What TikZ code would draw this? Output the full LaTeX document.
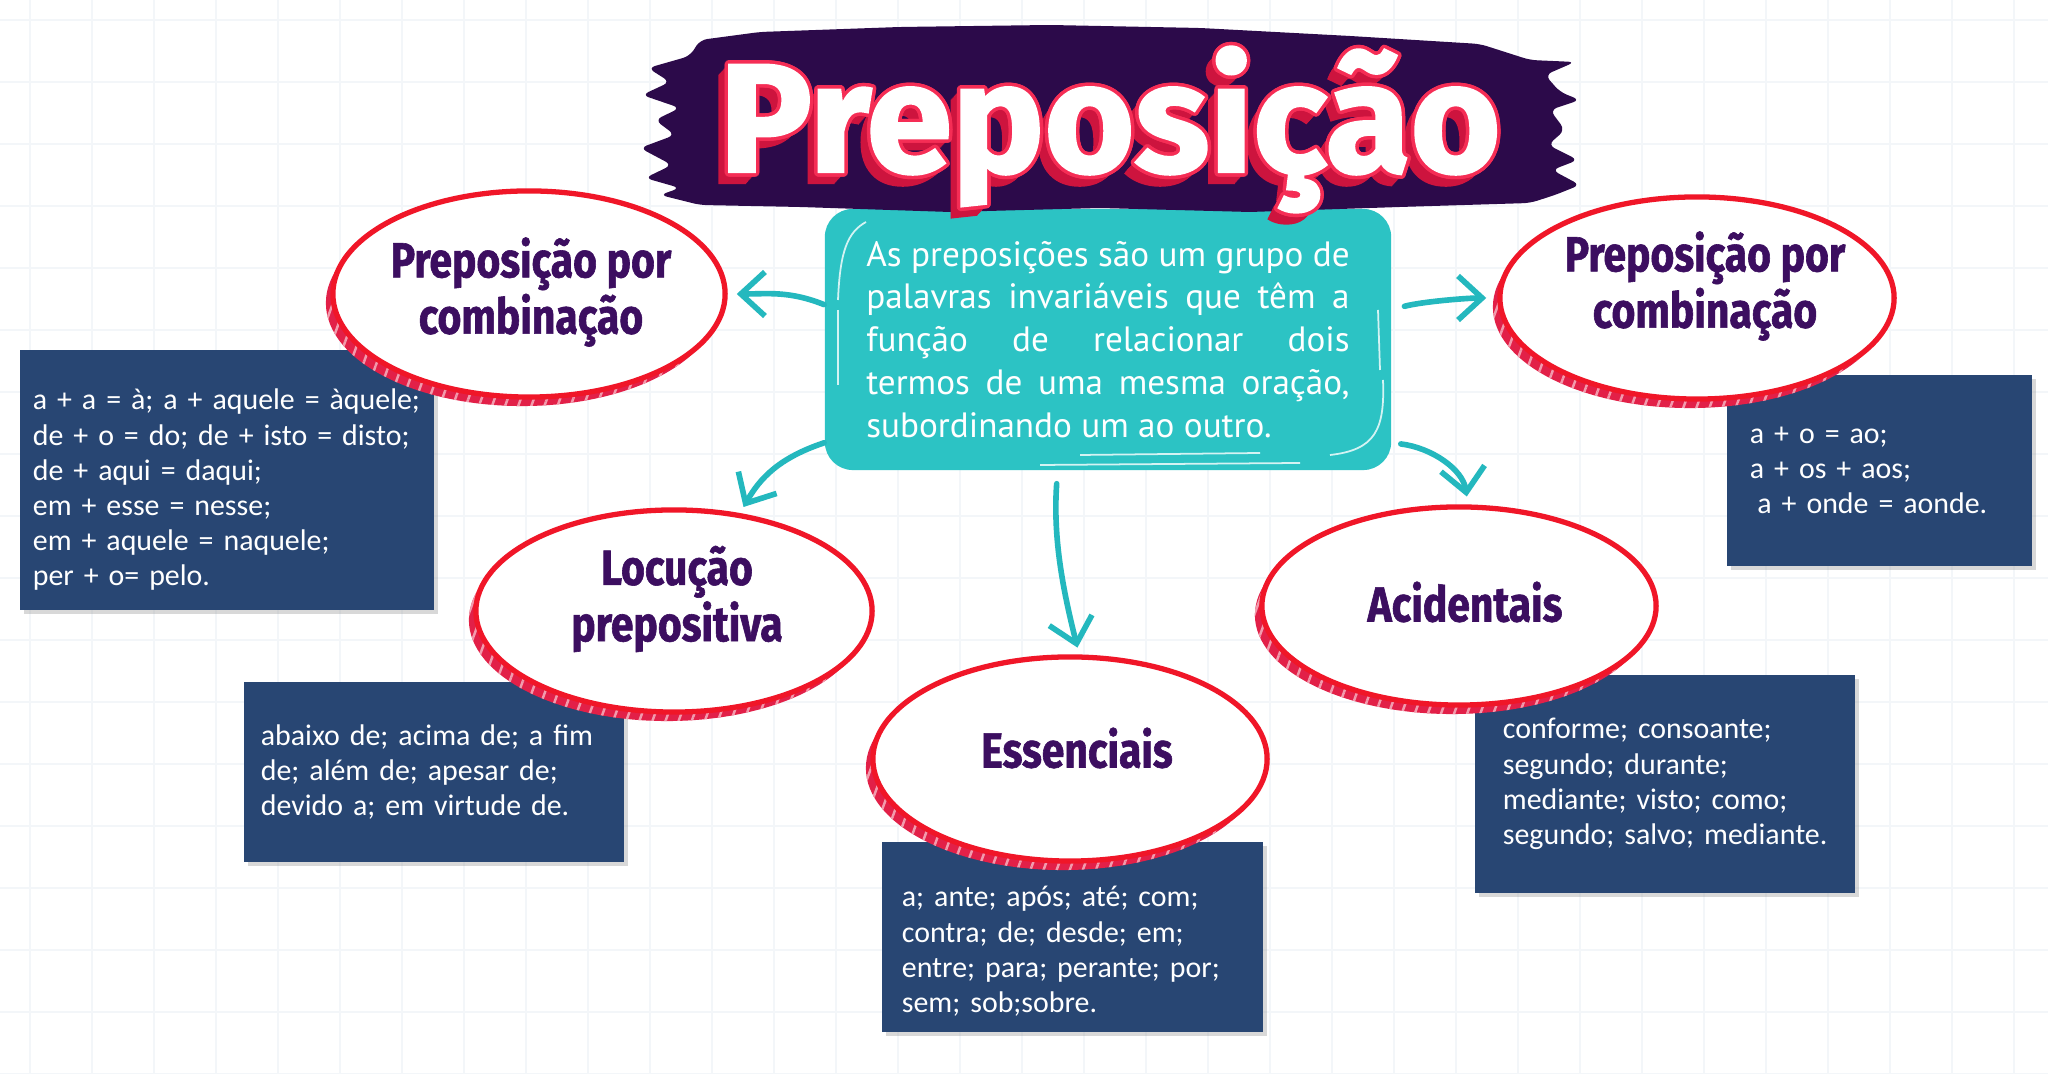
\documentclass[tikz,border=0pt]{standalone}
\usepackage{fontspec}
\usepackage{xcolor}
\usetikzlibrary{positioning}
\usetikzlibrary{shapes.geometric}
\usetikzlibrary{arrows.meta}
\usetikzlibrary{shadows}
\usetikzlibrary{patterns.meta}

\setmainfont{PT Sans}
\newfontfamily\boxfont[WordSpace=0.8]{Carlito}
\newfontfamily\titlefont[FakeBold=1.5]{Fira Sans}
\newfontfamily\bubblefont[FakeStretch=0.83,FakeBold=1.2]{Fira Sans}

\definecolor{inkpurple}{RGB}{44,10,74}
\definecolor{labelpurple}{RGB}{60,14,96}
\definecolor{bubblered}{RGB}{240,22,40}
\definecolor{bubbleshade}{RGB}{226,32,72}
\definecolor{boxblue}{RGB}{40,70,115}
\definecolor{tealbox}{RGB}{44,195,196}
\definecolor{tealarrow}{RGB}{36,184,190}
\definecolor{titlered}{RGB}{245,45,85}
\definecolor{titledark}{RGB}{205,20,62}
\definecolor{gridgray}{RGB}{243,246,249}

\tikzset{
  gridline/.style={gridgray, line width=0.3pt},
  bubble/.style={ellipse, draw=bubblered, line width=1.5pt, fill=white, inner sep=0pt,
    general shadow={shadow xshift=-0.07cm, shadow yshift=-0.09cm, fill=bubbleshade},
    general shadow={shadow xshift=-0.07cm, shadow yshift=-0.09cm,
      pattern={Lines[angle=70,distance=3.5pt,line width=0.7pt]}, pattern color=white!55!bubbleshade}},
  bubbletext/.style={text=labelpurple, inner sep=0pt, align=center,
    font=\bubblefont\bfseries\fontsize{14}{13.4}\selectfont},
  wordbox/.style={rectangle, fill=boxblue, text=white, inner ysep=0pt, align=left,
    font=\boxfont\fontsize{8.5}{10}\selectfont,
    drop shadow={shadow xshift=0.04cm, shadow yshift=-0.04cm, opacity=0.3}},
  defbox/.style={rectangle, rounded corners=0.28cm, fill=tealbox, text=white,
    text width=4.83cm, inner xsep=0.415cm, minimum height=2.61cm, align=justify,
    font=\fontsize{10}{12.2}\selectfont},
  gloss/.style={white, line width=0.5pt, opacity=0.8},
  titleshade/.style={anchor=base, text=titledark, font=\titlefont\bfseries\fontsize{44}{44}\selectfont},
  titleline/.style={anchor=base, text=titlered, font=\titlefont\bfseries\fontsize{44}{44}\selectfont},
  titletop/.style={anchor=base, text=white, font=\titlefont\bfseries\fontsize{44}{44}\selectfont},
  arr/.style={tealarrow, line width=1.6pt, line cap=round, -{Straight Barb[length=2.4mm,width=4.4mm]}},
}

\begin{document}
\begin{tikzpicture}[x=0.01cm,y=-0.01cm]

\useasboundingbox (0,0) rectangle (2048,1074);
\fill[white] (0,0) rectangle (2048,1074);

%grid
{
\foreach \gx in {30,92,...,2048} \draw[gridline] (\gx,0) -- (\gx,1074);
\foreach \gy in {20,82,...,1074} \draw[gridline] (0,\gy) -- (2048,\gy);
}

% word boxes
{
\node[wordbox, text width=3.88cm, minimum height=2.6cm, inner xsep=0.13cm] (boxL) at (227,480)
{\rule{0pt}{11.5pt}a + a = à; a + aquele = àquele;\\ de + o = do; de + isto = disto;\\ de + aqui = daqui;\\ em + esse = nesse;\\ em + aquele = naquele;\\ per + o= pelo.};

\node[wordbox, text width=2.59cm, minimum height=1.91cm, inner xsep=0.23cm] (boxR) at (1879.5,470.5)
{a + o = ao;\\ a + os + aos;\\ \hspace*{0.25em}a + onde = aonde.};

\node[wordbox, text width=3.46cm, minimum height=1.8cm, inner xsep=0.17cm] (boxLoc) at (434,772)
{abaixo de; acima de; a fim\\ de; além de; apesar de;\\ devido a; em virtude de.};

\node[wordbox, text width=3.41cm, minimum height=1.9cm, inner xsep=0.2cm] (boxEss) at (1072.5,937)
{\rule{0pt}{14pt}a; ante; após; até; com;\\ contra; de; desde; em;\\ entre; para; perante; por;\\ sem; sob;sobre.};

\node[wordbox, text width=3.34cm, minimum height=2.18cm, inner xsep=0.23cm] (boxAcid) at (1665,784)
{\hspace*{0.05cm}conforme; consoante;\\ \hspace*{0.05cm}segundo; durante;\\ \hspace*{0.05cm}mediante; visto; como;\\ \hspace*{0.05cm}\mbox{segundo; salvo; mediante.}};
}

% definition
\node[defbox] (def) at (1108,339.5)
{As preposições são um grupo de\linebreak palavras invariáveis que têm a\linebreak função de relacionar dois\linebreak termos de uma mesma oração,\linebreak subordinando um ao outro.};

{
\draw[gloss] (866,222) .. controls (848,232) and (840,250) .. (838,300);
\draw[gloss] (838,310) -- (838,385);
\draw[gloss] (1378,310) -- (1380,370);
\draw[gloss] (1383,380) .. controls (1385,430) and (1375,450) .. (1330,455);
\draw[gloss] (1080,455) -- (1260,453);
\draw[gloss] (1040,465) -- (1300,463);
}

%banner
\fill[inkpurple, rounded corners=2] (700,40) -- (760,32) -- (900,27) -- (1050,25) -- (1200,28) -- (1350,36) -- (1480,44) -- (1530,60) -- (1575,62) -- (1545,75) -- (1560,92) -- (1580,100) -- (1550,110) -- (1565,130) -- (1548,145) -- (1578,160) -- (1552,170) -- (1580,185) -- (1555,195) -- (1530,203) -- (1400,207) -- (1250,212) -- (1100,208) -- (950,212) -- (800,207) -- (700,205) -- (660,195) -- (680,188) -- (645,178) -- (672,165) -- (640,148) -- (675,135) -- (655,120) -- (680,108) -- (642,95) -- (670,82) -- (648,68) -- (690,56) -- cycle;

%title
{
\foreach \i in {1,...,11} \node[titleshade] (titleext\i) at (1110-0.9*\i,172+1.0*\i) {Preposição};
\foreach \a in {0,20,...,340} \node[titleline] (titleline\a) at ([shift={(\a:3.5)}]1110,172) {Preposição};
\node[titletop] (title) at (1110,172) {Preposição};
}

% bubbles
{
\node[bubble, minimum width=3.92cm, minimum height=2.06cm] (combL) at (529,294) {};
\node[bubble, minimum width=3.94cm, minimum height=2.02cm] (combR) at (1697,298) {};
\node[bubble, minimum width=3.96cm, minimum height=2.02cm] (loc) at (674,611) {};
\node[bubble, minimum width=3.94cm, minimum height=2.04cm] (ess) at (1070,759) {};
\node[bubble, minimum width=3.94cm, minimum height=1.98cm] (acid) at (1459,606) {};

\node[bubbletext] (combLtxt) at (531,292) {Preposição por\\combinação};
\node[bubbletext] (combRtxt) at (1705,286) {Preposição por\\combinação};
\node[bubbletext] (loctxt) at (677,599) {Locução\\prepositiva};
\node[bubbletext] (esstxt) at (1077,748) {Essenciais};
\node[bubbletext] (acidtxt) at (1465,602) {Acidentais};
}

% arrows
{
\draw[arr, shorten >=0.09cm] (def.173) .. controls +(-35,-14) and +(40,0) .. (combL.east);
\draw[arr, shorten <=0.13cm, shorten >=0.11cm] (def.6) .. controls +(30,-8) and +(-30,0) .. (combR.west);
\draw[arr, shorten >=0.07cm] (def.200) .. controls +(-45,15) and +(20,-35) .. (loc.56);
\draw[arr, shorten <=0.13cm, shorten >=0.07cm] (def.249) .. controls +(-5,70) and +(-15,-60) .. (ess.85);
\draw[arr, shorten <=0.09cm, shorten >=0.08cm] (def.-20) .. controls +(40,5) and +(-5,-35) .. (acid.85);
}

\end{tikzpicture}
\end{document}
